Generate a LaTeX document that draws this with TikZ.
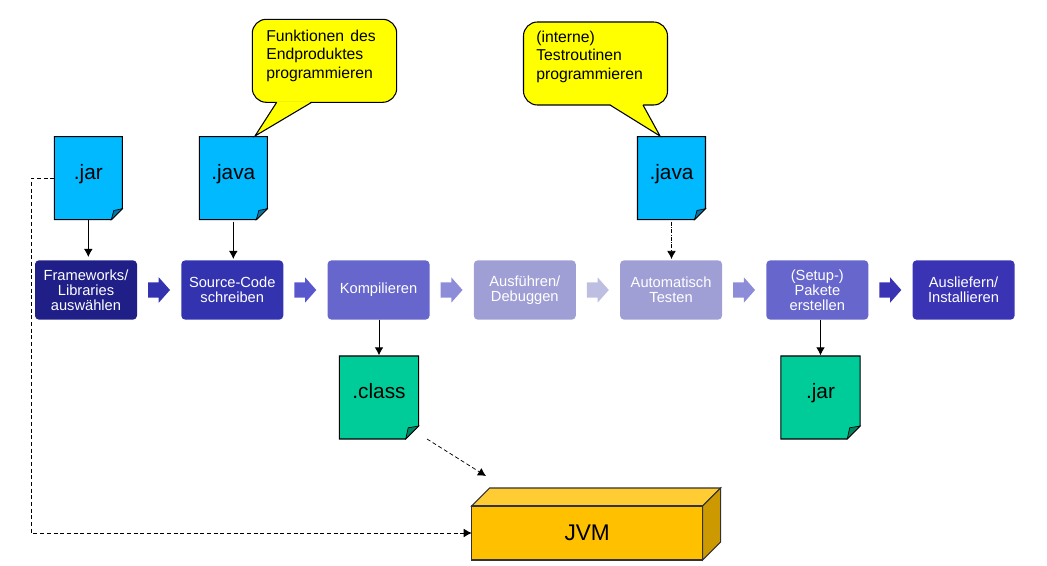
\documentclass[tikz,border=0pt]{standalone}
\usepackage{fontspec}
\setmainfont{Liberation Sans}
\usepackage{tikz}
\usetikzlibrary{shapes.arrows, arrows.meta, positioning}
\definecolor{stepA}{HTML}{1F1F87}
\definecolor{stepB}{HTML}{3333B0}
\definecolor{stepC}{HTML}{6666CC}
\definecolor{stepD}{HTML}{9F9FD6}
\definecolor{stepE}{HTML}{3A34B4}
\definecolor{arrowB}{HTML}{5858CC}
\definecolor{arrowC}{HTML}{8C8CD8}
\definecolor{arrowD}{HTML}{BEBEE2}
\definecolor{filecolA}{HTML}{00B9FF}
\definecolor{filecolB}{HTML}{00CC99}
\definecolor{callcol}{HTML}{FFFF00}
\definecolor{jvmfront}{HTML}{FFC000}
\definecolor{jvmtop}{HTML}{FFCC33}
\definecolor{jvmside}{HTML}{CC9A00}
\tikzstyle{process} = [rectangle, rounded corners=3pt, minimum width=76.5pt, minimum height=44.5pt, inner sep=0pt, outer sep=0pt, text centered, align=center, text=white, font=\fontsize{11}{11.2}\selectfont]
\tikzstyle{blockarrow} = [single arrow, minimum height=16.5pt, inner xsep=0pt, inner ysep=5.6pt, outer sep=0pt, single arrow head extend=3.75pt, single arrow head indent=0pt, single arrow tip angle=97, draw=none]
\tikzstyle{filetext} = [rectangle, inner sep=0pt, outer sep=0pt, text height=12pt, text depth=10pt, font=\fontsize{15.6}{18}\selectfont]
\tikzstyle{calltext} = [align=left, inner sep=0pt, font=\fontsize{11.8}{14}\selectfont]
\tikzstyle{callbox} = [fill=callcol, line width=0.8pt, rounded corners=10.5pt]
\tikzstyle{arrow} = [line width=0.7pt,-{Latex[length=6pt,width=6.5pt]}]
\tikzstyle{dasharrow} = [arrow, densely dashed, line width=0.55pt]
% name, position, colour, half width, fold, text
\newcommand{\filepage}[6]{
    \begin{scope}[shift={#2}]
        \draw [fill=#3, line width=0.8pt] (-#4,-41.5) -- (#4,-41.5) -- (#4,41.5-#5) -- (#4-#5,41.5) -- (-#4,41.5) -- cycle;
        \draw [fill=#3!65!black, line width=0.5pt] (#4-#5,41.5) -- (#4,41.5-#5) -- (#4-#5+2.5,41.5-#5+1.8) -- cycle;
    \end{scope}
    \node (#1) [filetext, minimum width=2*#4*0.75pt, minimum height=62.25pt] at #2 {#6};
}

\begin{document}
\begin{tikzpicture}[x=0.75pt, y=-0.75pt, node distance=33.2pt]
    \useasboundingbox (0,0) rectangle (1047,566);

    % process row
    \node (select) [process, fill=stepA] at (86,290) {Frameworks/\\Libraries\\auswählen};
    \node (write) [process, fill=stepB, right=of select] {Source-Code\\schreiben};
    \node (compile) [process, fill=stepC, right=of write] {Kompilieren};
    \node (debug) [process, fill=stepD, right=of compile] {Ausführen/\\Debuggen};
    \node (test) [process, fill=stepD, right=of debug] {Automatisch\\Testen};
    \node (package) [process, fill=stepC, right=of test] {(Setup-)\\Pakete\\erstellen};
    \node (deploy) [process, fill=stepE, right=of package] {Ausliefern/\\Installieren};

    \node (arrA) [blockarrow, fill=stepB, right=8.25pt of select] {};
    \node (arrB) [blockarrow, fill=arrowB, right=8.25pt of write] {};
    \node (arrC) [blockarrow, fill=arrowC, right=8.25pt of compile] {};
    \node (arrD) [blockarrow, fill=arrowD, right=8.25pt of debug] {};
    \node (arrE) [blockarrow, fill=arrowC, right=8.25pt of test] {};
    \node (arrF) [blockarrow, fill=stepE, right=8.25pt of package] {};

    % files
    \filepage{jarin}{(88.3,178.2)}{filecolA}{34}{11}{.jar}
    \filepage{javamain}{(233.3,178.2)}{filecolA}{34}{11}{.java}
    \filepage{javatest}{(671.5,178.2)}{filecolA}{34}{11}{.java}
    \filepage{classout}{(379,397.5)}{filecolB}{39.7}{13}{.class}
    \filepage{jarout}{(820.5,397.5)}{filecolB}{39.7}{13}{.jar}

    % callouts
    \draw [callbox] (252.3,19.3) rectangle (396.7,102.3);
    \fill [callcol] (276.7,101.5) -- (311.7,101.5) -- (255,136) -- cycle;
    \draw [line width=0.8pt] (276.7,102.3) -- (255,136) -- (311.7,102.3);
    \node (funcs) [calltext, anchor=north west] at (266,29.5) {Funktionen\hspace{1.5pt} des\\Endproduktes\\programmieren};
    \draw [callbox] (523.5,22) rectangle (667.5,105);
    \fill [callcol] (610,104.2) -- (643,104.2) -- (660,136) -- cycle;
    \draw [line width=0.8pt] (610,105) -- (660,136) -- (643,105);
    \node (routines) [calltext, anchor=north west] at (536,30.5) {(interne)\\Testroutinen\\programmieren};

    % JVM block
    \draw [line width=0.8pt, draw=black!80, fill=jvmtop] (471.7,506) -- (489.7,488) -- (720.7,488) -- (702.7,506) -- cycle;
    \draw [line width=0.8pt, draw=black!80, fill=jvmside] (702.7,506) -- (720.7,488) -- (720.7,542) -- (702.7,560) -- cycle;
    \node (jvm) [rectangle, draw=black!80, line width=0.8pt, fill=jvmfront, minimum width=173.25pt, minimum height=40.5pt, inner sep=0pt, outer sep=0pt, font=\fontsize{17}{20}\selectfont] at (587.2,533) {JVM};

    \coordinate (classend) at (427,439);
    \coordinate (jvmend) at (486,476);

    \draw [arrow] (jarin.south) -- ([yshift=2.5pt]jarin.south |- select.north);
    \draw [arrow] ([yshift=-1.5pt]javamain.south) -- ([yshift=1pt]javamain.south |- write.north);
    \draw [arrow, densely dashdotted, line width=0.55pt] ([yshift=-1.5pt]javatest.south) -- ([yshift=1pt]javatest.south |- test.north);
    \draw [arrow] (classout.north |- compile.south) -- ([yshift=0.5pt]classout.north);
    \draw [arrow] (jarout.north |- package.south) -- ([yshift=0.5pt]jarout.north);
    \draw [dasharrow] (classend) -- (jvmend);
    \draw [dasharrow] (jarin.west) -- ++(-23,0) |- (jvm.west);
\end{tikzpicture}
\end{document}
